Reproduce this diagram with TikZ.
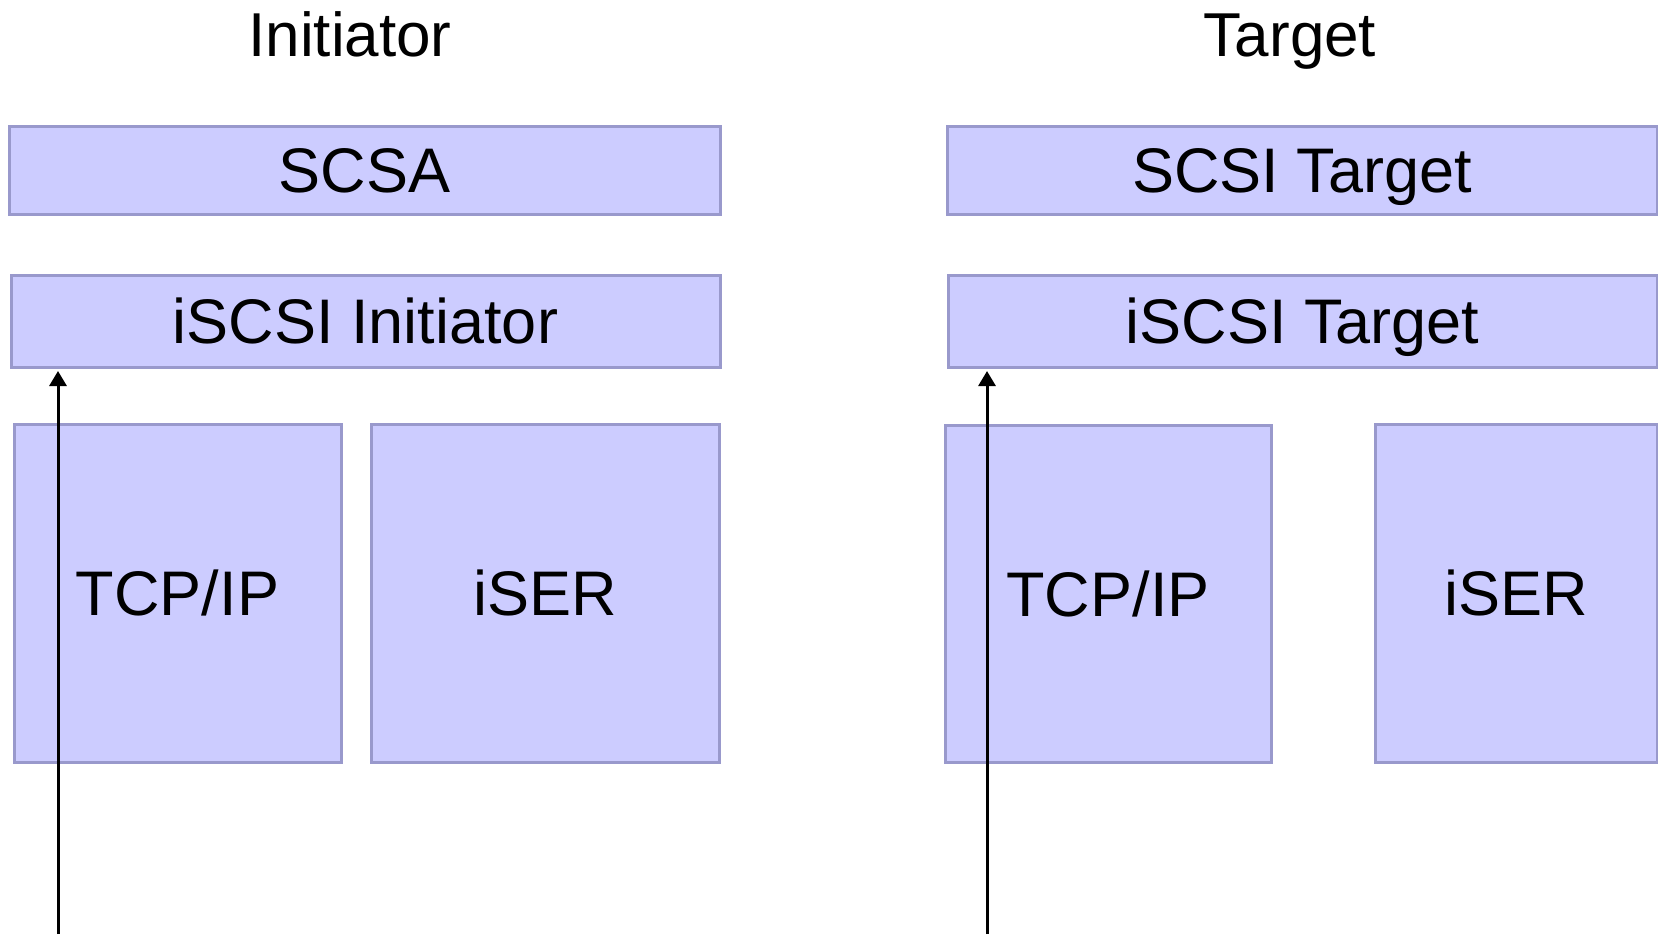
\documentclass[tikz,border=0pt]{standalone}
\usepackage{fontspec}
\setmainfont{Liberation Sans}
\usetikzlibrary{arrows.meta}
\definecolor{layerfill}{HTML}{CCCCFF}
\definecolor{layerline}{HTML}{9999CC}
\tikzset{
  layer/.style 2 args={draw=layerline, fill=layerfill, line width=1.5pt,
    inner sep=0pt, outer sep=0pt, font=\fontsize{31.5}{38}\selectfont,
    minimum width=#1*0.5pt, minimum height=#2*0.5pt,
    text height=22.5pt, text depth=0pt},
  heading/.style={inner sep=0pt, font=\fontsize{31}{37}\selectfont, anchor=base},
  flow/.style={draw=black, line width=1.5pt,
    -{Triangle[length=7.5pt,width=8.5pt]}, shorten >=2pt}
}
\begin{document}
\begin{tikzpicture}[x=0.5pt,y=-0.5pt]
\useasboundingbox (0,0) rectangle (1658,934);

% column headings
\node[heading] (hinit) at (350,56) {Initiator};
\node[heading] (htgt)  at (1290,56) {Target};

% initiator stack
\node[layer={711}{88}]  (scsa)  at (364.5,170) {SCSA};
\node[layer={709}{92}]  (iinit) at (365.5,321) {iSCSI Initiator};
\node[layer={327}{338}] (itcp)  at (177.5,593) {TCP/IP};
\node[layer={348}{338}] (iiser) at (545,593)   {iSER};

% target stack
\node[layer={710}{88}]  (scsit) at (1302,170)   {SCSI Target};
\node[layer={709}{92}]  (itgt)  at (1302.5,321) {iSCSI Target};
\node[layer={326}{337}] (ttcp)  at (1108,593.5) {TCP/IP};
\node[layer={282}{338}] (tiser) at (1516,593)   {iSER};

% data paths entering from below
\coordinate (iin) at (58,934);
\coordinate (tin) at (987,934);
\draw[flow] (iin) -- (iin |- iinit.south);
\draw[flow] (tin) -- (tin |- itgt.south);
\end{tikzpicture}
\end{document}
